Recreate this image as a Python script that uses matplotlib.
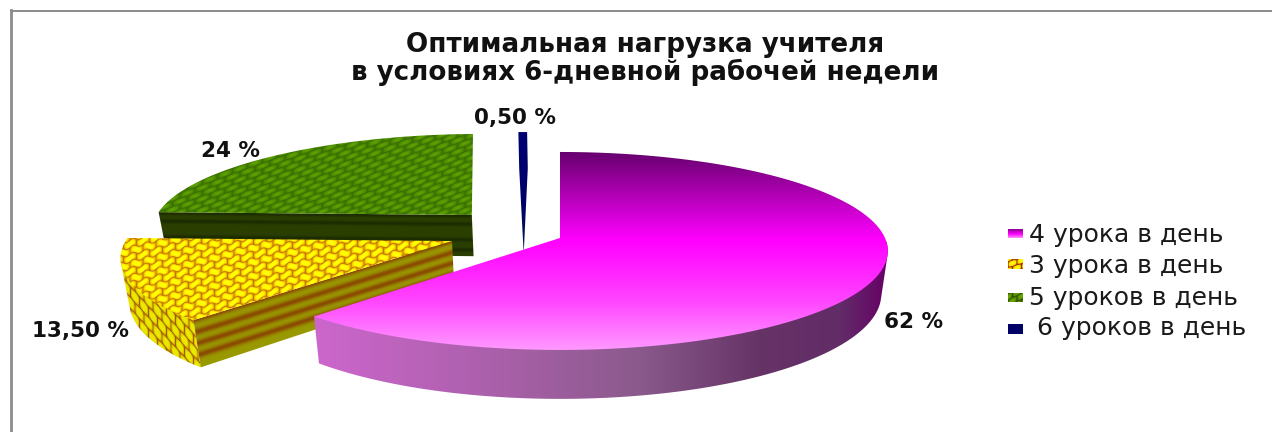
import numpy as np
import matplotlib
matplotlib.use('Agg')
import matplotlib.pyplot as plt
from matplotlib.patches import Polygon
from matplotlib.colors import to_rgb

categories = ['4 урока в день', '3 урока в день', '5 уроков в день', ' 6 уроков в день']
values = [62, 13.5, 24, 0.5]
value_labels = ['62 %', '13,50 %', '24 %', '0,50 %']
title = 'Оптимальная нагрузка учителя\nв условиях 6-дневной рабочей недели'

# pie geometry, in pixels
CX, CY = 560, 238
RX, RY = 325, 97.3
PERSP = 0.131
DEPTH = 42.5
TAPER = 0.98

# how far each slice is pulled out of the pie, in disc units
offsets = [(0, 0), (-0.331, -0.031), (-0.28, 0.244), (-0.118, 0.27)]

plt.rcParams['font.family'] = ['DejaVu Sans']

fig = plt.figure(figsize=(12.72, 4.32), dpi=100)
ax = fig.add_axes([0, 0, 1, 1])
ax.set_xlim(0, 1272)
ax.set_ylim(432, 0)
ax.axis('off')


def project(u, v, lower=False):
    w = 1 + PERSP * v
    x = RX * u / w
    y = CY - RY * v / w
    if lower:
        return CX + TAPER * x, y + DEPTH / w
    return CX + x, y


def ramp(t, stops):
    pos = [s[0] for s in stops]
    cols = np.array([to_rgb(s[1]) for s in stops])
    return np.dstack([np.interp(t, pos, cols[:, i]) for i in range(3)])


def pillow(xx, yy, dx, dy, slope, wave=0.0):
    # rows of rounded tiles, used for the woven slice fills
    v = (yy + slope * xx + wave * np.sin(2 * np.pi * xx / dx)) / dy
    u = xx / dx + np.floor(v) * 0.5
    return np.sin(np.pi * (u % 1)) * np.sin(np.pi * (v % 1))


def hull(points):
    pts = sorted(set((round(a, 3), round(b, 3)) for a, b in points))

    def half(seq):
        out = []
        for p in seq:
            while len(out) > 1 and ((out[-1][0] - out[-2][0]) * (p[1] - out[-2][1])
                                    - (out[-1][1] - out[-2][1]) * (p[0] - out[-2][0])) <= 0:
                out.pop()
            out.append(p)
        return out[:-1]
    return half(pts) + half(pts[::-1])


def paint(verts, shader):
    verts = np.array(verts)
    x0, y0 = np.floor(verts.min(axis=0)).astype(int) - 1
    x1, y1 = np.ceil(verts.max(axis=0)).astype(int) + 1
    xx, yy = np.meshgrid(np.arange(x0, x1) + 0.5, np.arange(y0, y1) + 0.5)
    im = ax.imshow(shader(xx, yy), extent=(x0, x1, y1, y0), aspect='auto',
                   interpolation='bilinear', zorder=2)
    clip = Polygon(verts, closed=True, transform=ax.transData, fill=False, edgecolor='none')
    ax.add_patch(clip)
    im.set_clip_path(clip)
    ax.set_xlim(0, 1272)
    ax.set_ylim(432, 0)


def top_face(i, start, stop):
    ou, ov = offsets[i]
    th = np.radians(np.linspace(start, stop, 120))
    pts = [project(ou, ov)]
    pts += [project(ou + np.sin(t), ov + np.cos(t)) for t in th]
    return pts


def rim_wall(i, start, stop):
    ou, ov = offsets[i]
    th = np.radians(np.linspace(start, stop, 120))
    upper = [project(ou + np.sin(t), ov + np.cos(t)) for t in th]
    lower = [project(ou + np.sin(t), ov + np.cos(t), lower=True) for t in th]
    return hull(upper + lower)


def cut_wall(i, angle):
    ou, ov = offsets[i]
    t = np.radians(angle)
    a, b = (ou, ov), (ou + np.sin(t), ov + np.cos(t))
    return [project(*a), project(*b), project(*b, lower=True), project(*a, lower=True)]


def stripes(wall, base, band, centers, width):
    (x0, y0), (x1, y1), (_, y2), (_, y3) = wall

    def shader(xx, yy):
        f = np.clip((xx - x0) / (x1 - x0), 0, 1)
        top = y0 + (y1 - y0) * f
        depth = (y3 - y0) + ((y2 - y1) - (y3 - y0)) * f
        d = (yy - top) / depth
        m = sum(np.exp(-((d - c) / width) ** 2) for c in centers)
        return ramp(np.clip(m, 0, 1), [(0, base), (1, band)])
    return shader


def green_tiles(xx, yy):
    t = pillow(xx, yy, 15, 5.6, 0.36)
    return ramp(t, [(0, '#3a7000'), (0.45, '#4e8c00'), (1, '#5ea200')])


def yellow_tiles(xx, yy):
    t = pillow(xx, yy, 13, 7, 0.25, wave=1.2)
    return ramp(t, [(0, '#c47a00'), (0.2, '#e8b400'), (0.45, '#ffe800'), (0.75, '#ffff00'), (1, '#ffff00')])


def yellow_rim(xx, yy):
    t = pillow(xx, yy, 9, 11, -1.1)
    return ramp(t, [(0, '#a85a00'), (0.25, '#d4c000'), (0.6, '#e8e800'), (1, '#eaea00')])


def pink_top(xx, yy):
    return ramp(yy, [(152, '#66006e'), (240, '#ff00ff'), (300, '#ff44ff'), (350, '#ff99ff')])


def pink_rim(xx, yy):
    return ramp(xx, [(320, '#cc66cc'), (520, '#a55fa5'), (640, '#8a5a8c'),
                     (760, '#663366'), (840, '#622c68'), (888, '#660066')])


def navy(xx, yy):
    return ramp(yy, [(132, '#000070'), (200, '#00006a'), (250, '#001850')])


shares = np.cumsum([0] + values) / sum(values) * 360

# back to front: 5 lessons, 6 lessons, 3 lessons, 4 lessons
green_wall = cut_wall(2, shares[2])
paint(green_wall, stripes(green_wall, '#2b3f00', '#1c2c00', [0.02, 0.22, 0.6, 0.85], 0.05))
paint(top_face(2, shares[2], shares[3]), green_tiles)

ou, ov = offsets[3]
far_l = (ou + np.sin(np.radians(shares[3])), ov + np.cos(np.radians(shares[3])))
far_r = (ou, ov + 1)
paint([project(*far_l), project(*far_r), project(*far_r, lower=True),
       project(ou, ov, lower=True), project(*far_l, lower=True)], navy)

paint(rim_wall(1, shares[1], shares[2]), yellow_rim)
yellow_wall = cut_wall(1, shares[1])
paint(yellow_wall, stripes(yellow_wall, '#999900', '#8a4a00', [0.0, 0.27, 0.52, 0.77], 0.07))
paint(top_face(1, shares[1], shares[2]), yellow_tiles)

paint(rim_wall(0, 92, shares[1]), pink_rim)
paint(top_face(0, shares[0], shares[1]), pink_top)

# slice captions
label_pos = [(914, 322), (80, 331), (230, 151), (515, 118)]
for txt, (lx, ly) in zip(value_labels, label_pos):
    ax.text(lx, ly, txt, ha='center', va='center', fontsize=15.5, fontweight='bold',
            color='#111111', zorder=5)

ax.text(645, 59, title, ha='center', va='center', fontsize=18.8, fontweight='bold',
        color='#111111', linespacing=1.0, zorder=5)

# legend
key_boxes = [(1008, 229, 1023, 238), (1008, 259, 1023, 269), (1008, 293, 1023, 302), (1008, 324, 1023, 334)]
key_text = [(1029, 242), (1029, 273), (1029, 305), (1029, 335)]


def key_pink(xx, yy):
    return ramp(yy, [(229, '#8a0090'), (234, '#ff00ff'), (238, '#ff99ff')])


def key_yellow(xx, yy):
    return ramp(pillow(xx, yy, 9, 6, 0.3), [(0, '#a03000'), (0.4, '#ffe000'), (1, '#ffff00')])


def key_green(xx, yy):
    return ramp(pillow(xx, yy, 9, 6, 0.5), [(0, '#2f5000'), (0.4, '#5a9000'), (1, '#6aa800')])


def key_navy(xx, yy):
    return ramp(yy, [(0, '#000066'), (432, '#000066')])


key_fills = [key_pink, key_yellow, key_green, key_navy]
for box, pos, name, fill in zip(key_boxes, key_text, categories, key_fills):
    x0, y0, x1, y1 = box
    paint([(x0, y0), (x1, y0), (x1, y1), (x0, y1)], fill)
    ax.text(pos[0], pos[1], name, ha='left', va='baseline', fontsize=18,
            color='#1a1a1a', zorder=5)

# grey frame along the top and left edges
ax.plot([10.5, 1272], [10.5, 10.5], color='#8c8c8c', lw=1.4, zorder=1)
ax.plot([10.5, 10.5], [10, 432], color='#8c8c8c', lw=2, zorder=1)

fig.savefig('out.png', dpi=100, facecolor='white')
